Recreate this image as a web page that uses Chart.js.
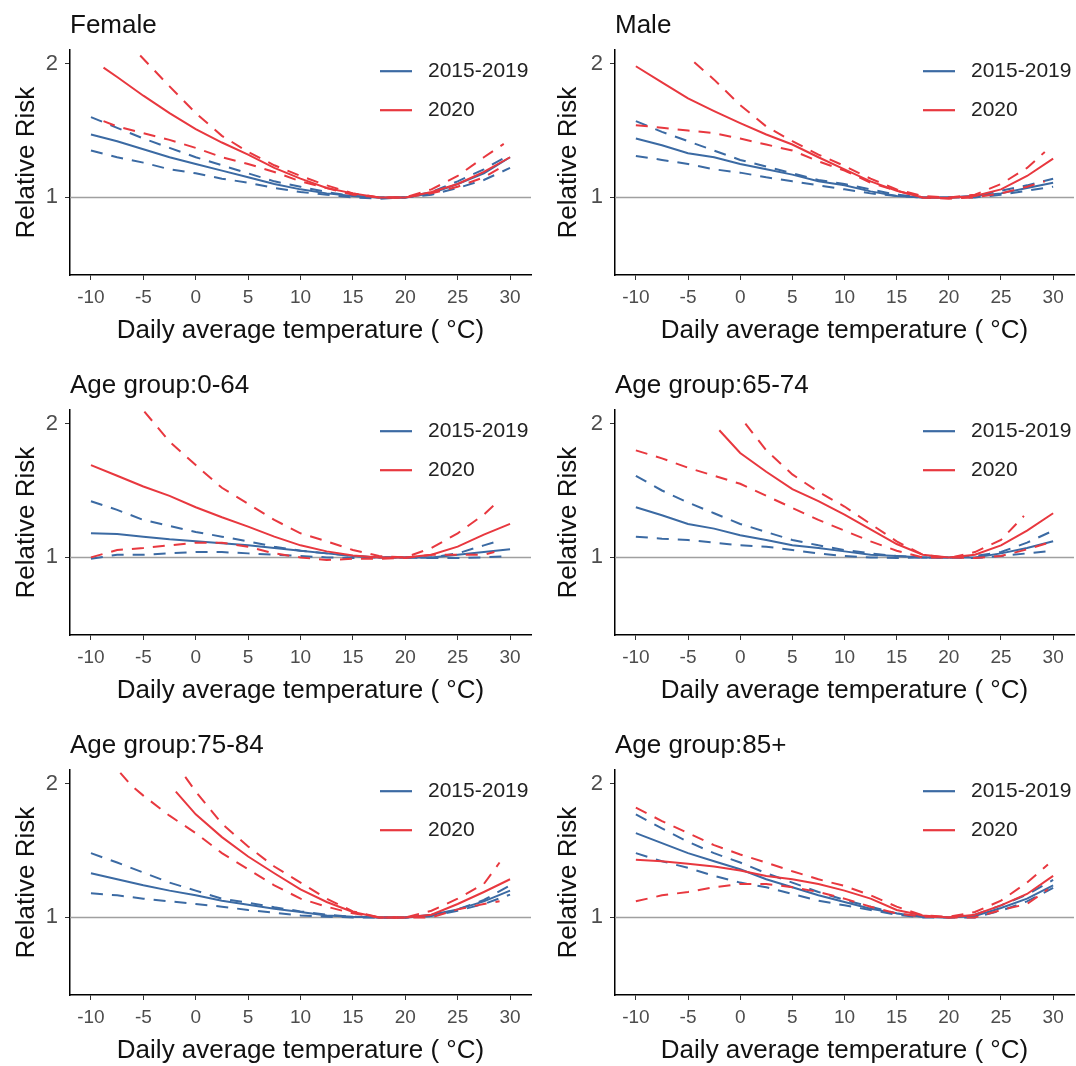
<!DOCTYPE html>
<html>
<head>
<meta charset="utf-8">
<script src="https://cdn.jsdelivr.net/npm/chart.js@4.4.0/dist/chart.umd.min.js"></script>
<style>
  body { margin: 0; background: #fff; width: 1076px; height: 1066px; overflow: hidden; position: relative; }
  canvas { position: absolute; }
</style>
</head>
<body>
<canvas id="p0" width="536" height="360" style="left:0;top:0"></canvas>
<canvas id="p1" width="540" height="360" style="left:536px;top:0"></canvas>
<canvas id="p2" width="536" height="360" style="left:0;top:360px"></canvas>
<canvas id="p3" width="540" height="360" style="left:536px;top:360px"></canvas>
<canvas id="p4" width="536" height="360" style="left:0;top:720px"></canvas>
<canvas id="p5" width="540" height="360" style="left:536px;top:720px"></canvas>
<script>
// tick labels and legend
var xTicks = [-10, -5, 0, 5, 10, 15, 20, 25, 30];
var yTicks = [1, 2];
var periods = ['2015-2019', '2020'];
var titles = ['Female', 'Male', 'Age group:0-64', 'Age group:65-74', 'Age group:75-84', 'Age group:85+'];

// [temperature, relative risk]
var female2015Fit = [[-10,1.47],[-7.5,1.42],[-5,1.36],[-2.5,1.30],[0,1.25],[2.5,1.20],[5,1.15],[7.5,1.10],[10,1.06],[12.5,1.03],[15,1.01],[17.5,1.0],[20,1.0],[22.5,1.03],[25,1.10],[27.5,1.18],[30,1.30]];
var female2015Lo = [[-10,1.35],[-7.5,1.30],[-5,1.26],[-2.5,1.21],[0,1.18],[2.5,1.14],[5,1.11],[7.5,1.07],[10,1.04],[12.5,1.02],[15,1.0],[17.5,0.99],[20,1.0],[22.5,1.02],[25,1.07],[27.5,1.13],[30,1.22]];
var female2015Hi = [[-10,1.60],[-7.5,1.52],[-5,1.44],[-2.5,1.37],[0,1.30],[2.5,1.24],[5,1.18],[7.5,1.12],[10,1.08],[12.5,1.04],[15,1.01],[17.5,1.0],[20,1.0],[22.5,1.04],[25,1.12],[27.5,1.21],[30,1.32]];
var female2020Fit = [[-8.8,1.97],[-7.5,1.90],[-5,1.76],[-2.5,1.63],[0,1.51],[2.5,1.41],[5,1.32],[7.5,1.22],[10,1.14],[12.5,1.07],[15,1.03],[17.5,1.0],[20,1.0],[22.5,1.04],[25,1.10],[27.5,1.19],[30,1.30]];
var female2020Lo = [[-8.8,1.57],[-7.5,1.53],[-5,1.48],[-2.5,1.43],[0,1.37],[2.5,1.30],[5,1.25],[7.5,1.19],[10,1.12],[12.5,1.07],[15,1.02],[17.5,1.0],[20,1.0],[22.5,1.03],[25,1.08],[27.5,1.15],[29.5,1.24]];
var female2020Hi = [[-5.3,2.06],[-2.5,1.83],[0,1.63],[2.5,1.46],[5,1.34],[7.5,1.24],[10,1.16],[12.5,1.09],[15,1.03],[17.5,1.0],[20,1.0],[22.5,1.06],[25,1.16],[27.5,1.30],[29.4,1.40]];

var male2015Fit = [[-10,1.44],[-7.5,1.39],[-5,1.33],[-2.5,1.30],[0,1.25],[2.5,1.21],[5,1.17],[7.5,1.12],[10,1.09],[12.5,1.045],[15,1.01],[17.5,1.0],[20,1.0],[22.5,1.01],[25,1.03],[27.5,1.07],[30,1.11]];
var male2015Lo = [[-10,1.31],[-7.5,1.28],[-5,1.25],[-2.5,1.21],[0,1.185],[2.5,1.15],[5,1.12],[7.5,1.09],[10,1.06],[12.5,1.03],[15,1.01],[17.5,1.0],[20,1.0],[22.5,1.0],[25,1.02],[27.5,1.05],[30,1.08]];
var male2015Hi = [[-10,1.57],[-7.5,1.49],[-5,1.42],[-2.5,1.35],[0,1.28],[2.5,1.23],[5,1.18],[7.5,1.13],[10,1.10],[12.5,1.06],[15,1.02],[17.5,1.0],[20,1.0],[22.5,1.01],[25,1.05],[27.5,1.09],[30,1.14]];
var male2020Fit = [[-10,1.98],[-7.5,1.86],[-5,1.74],[-2.5,1.645],[0,1.555],[2.5,1.47],[5,1.395],[7.5,1.30],[10,1.21],[12.5,1.12],[15,1.05],[17.5,1.0],[20,0.995],[22.5,1.01],[25,1.06],[27.5,1.16],[30,1.29]];
var male2020Lo = [[-10,1.54],[-7.5,1.52],[-5,1.50],[-2.5,1.48],[0,1.44],[2.5,1.395],[5,1.35],[7.5,1.27],[10,1.20],[12.5,1.11],[15,1.05],[17.5,1.0],[20,0.99],[22.5,1.0],[25,1.03],[27.5,1.08],[29.2,1.12]];
var male2020Hi = [[-4.4,2.01],[-2.5,1.88],[0,1.69],[2.5,1.53],[5,1.42],[7.5,1.32],[10,1.235],[12.5,1.14],[15,1.06],[17.5,1.01],[20,1.0],[22.5,1.02],[25,1.10],[27.5,1.22],[29.2,1.34]];

var young2015Fit = [[-10,1.18],[-7.5,1.175],[-5,1.155],[-2.5,1.135],[0,1.12],[2.5,1.105],[5,1.09],[7.5,1.07],[10,1.05],[12.5,1.03],[15,1.01],[17.5,1.0],[20,1.0],[22.5,1.0],[25,1.02],[27.5,1.04],[30,1.06]];
var young2015Lo = [[-10,0.99],[-7.5,1.02],[-5,1.02],[-2.5,1.03],[0,1.04],[2.5,1.04],[5,1.03],[7.5,1.02],[10,1.01],[12.5,1.0],[15,0.995],[17.5,1.0],[20,1.0],[22.5,0.995],[25,0.995],[27.5,1.0],[30,1.01]];
var young2015Hi = [[-10,1.42],[-7.5,1.355],[-5,1.28],[-2.5,1.235],[0,1.19],[2.5,1.155],[5,1.12],[7.5,1.08],[10,1.05],[12.5,1.03],[15,1.01],[17.5,1.0],[20,1.0],[22.5,1.0],[25,1.03],[27.5,1.09],[28.8,1.12]];
var young2020Fit = [[-10,1.69],[-7.5,1.61],[-5,1.53],[-2.5,1.46],[0,1.375],[2.5,1.30],[5,1.23],[7.5,1.155],[10,1.09],[12.5,1.045],[15,1.015],[17.5,1.0],[20,1.0],[22.5,1.02],[25,1.08],[27.5,1.17],[30,1.25]];
var young2020Lo = [[-10,1.0],[-7.5,1.055],[-5,1.07],[-2.5,1.09],[0,1.11],[2.5,1.11],[5,1.08],[7.5,1.03],[10,1.0],[12.5,0.98],[15,0.99],[17.5,0.99],[20,0.995],[22.5,1.02],[25,1.02],[27.5,1.02],[28.5,1.04]];
var young2020Hi = [[-4.9,2.09],[-2.5,1.865],[0,1.69],[2.5,1.52],[5,1.40],[7.5,1.28],[10,1.18],[12.5,1.12],[15,1.055],[17.5,1.01],[20,1.0],[22.5,1.07],[25,1.18],[27.5,1.32],[28.6,1.40]];

var mid2015Fit = [[-10,1.375],[-7.5,1.315],[-5,1.25],[-2.5,1.215],[0,1.165],[2.5,1.13],[5,1.09],[7.5,1.07],[10,1.045],[12.5,1.02],[15,1.01],[17.5,1.0],[20,1.0],[22.5,1.0],[25,1.03],[27.5,1.07],[30,1.12]];
var mid2015Lo = [[-10,1.155],[-7.5,1.14],[-5,1.13],[-2.5,1.11],[0,1.09],[2.5,1.08],[5,1.055],[7.5,1.03],[10,1.01],[12.5,1.0],[15,0.995],[17.5,1.0],[20,1.0],[22.5,0.995],[25,1.01],[27.5,1.03],[30,1.05]];
var mid2015Hi = [[-10,1.61],[-7.5,1.50],[-5,1.41],[-2.5,1.33],[0,1.25],[2.5,1.19],[5,1.13],[7.5,1.09],[10,1.055],[12.5,1.03],[15,1.01],[17.5,1.0],[20,1.0],[22.5,1.01],[25,1.04],[27.5,1.11],[30,1.20]];
var mid2020Fit = [[-2,1.95],[0,1.78],[2.5,1.64],[5,1.51],[7.5,1.42],[10,1.32],[12.5,1.21],[15,1.10],[17.5,1.02],[20,1.0],[22.5,1.02],[25,1.09],[27.5,1.20],[30,1.33]];
var mid2020Lo = [[-10,1.80],[-7.5,1.74],[-5,1.67],[-2.5,1.61],[0,1.55],[2.5,1.46],[5,1.37],[7.5,1.28],[10,1.20],[12.5,1.12],[15,1.05],[17.5,1.0],[20,1.0],[22.5,0.995],[25,1.01],[27.5,1.06],[30,1.12]];
var mid2020Hi = [[0.5,2.0],[2.5,1.80],[5,1.62],[7.5,1.49],[10,1.38],[12.5,1.25],[15,1.12],[17.5,1.02],[20,0.995],[22.5,1.04],[25,1.13],[27.2,1.31]];

var old2015Fit = [[-10,1.33],[-7.5,1.285],[-5,1.24],[-2.5,1.20],[0,1.165],[2.5,1.125],[5,1.095],[7.5,1.065],[10,1.04],[12.5,1.015],[15,1.005],[17.5,1.0],[20,1.0],[22.5,1.02],[25,1.06],[27.5,1.12],[30,1.20]];
var old2015Lo = [[-10,1.18],[-7.5,1.165],[-5,1.14],[-2.5,1.12],[0,1.10],[2.5,1.08],[5,1.055],[7.5,1.035],[10,1.015],[12.5,1.005],[15,1.0],[17.5,1.0],[20,1.0],[22.5,1.01],[25,1.05],[27.5,1.10],[30,1.17]];
var old2015Hi = [[-10,1.48],[-7.5,1.41],[-5,1.335],[-2.5,1.26],[0,1.20],[2.5,1.14],[5,1.11],[7.5,1.075],[10,1.045],[12.5,1.02],[15,1.005],[17.5,1.0],[20,1.0],[22.5,1.01],[25,1.06],[27.5,1.13],[30,1.24]];
var old2020Fit = [[-1.9,1.94],[0,1.77],[2.5,1.60],[5,1.455],[7.5,1.33],[10,1.21],[12.5,1.115],[15,1.04],[17.5,1.0],[20,1.0],[22.5,1.02],[25,1.10],[27.5,1.19],[30,1.285]];
var old2020Lo = [[-7.2,2.08],[-6.2,1.99],[-5,1.91],[-2.5,1.76],[0,1.63],[2.5,1.48],[5,1.36],[7.5,1.24],[10,1.14],[12.5,1.08],[15,1.03],[17.5,1.0],[20,1.0],[22.5,1.0],[25,1.06],[27.5,1.10],[29,1.12]];
var old2020Hi = [[-1,2.05],[0,1.94],[2.5,1.70],[5,1.53],[7.5,1.38],[10,1.26],[12.5,1.14],[15,1.045],[17.5,1.0],[20,1.0],[22.5,1.05],[25,1.14],[27.5,1.25],[29,1.41]];

var oldest2015Fit = [[-10,1.63],[-7.5,1.555],[-5,1.48],[-2.5,1.42],[0,1.36],[2.5,1.285],[5,1.225],[7.5,1.165],[10,1.115],[12.5,1.065],[15,1.03],[17.5,1.005],[20,1.0],[22.5,1.01],[25,1.07],[27.5,1.14],[30,1.24]];
var oldest2015Lo = [[-10,1.48],[-7.5,1.42],[-5,1.37],[-2.5,1.31],[0,1.26],[2.5,1.225],[5,1.175],[7.5,1.125],[10,1.09],[12.5,1.055],[15,1.02],[17.5,1.0],[20,1.0],[22.5,1.0],[25,1.05],[27.5,1.12],[30,1.22]];
var oldest2015Hi = [[-10,1.77],[-7.5,1.665],[-5,1.565],[-2.5,1.48],[0,1.41],[2.5,1.33],[5,1.26],[7.5,1.19],[10,1.13],[12.5,1.08],[15,1.03],[17.5,1.005],[20,1.0],[22.5,1.02],[25,1.09],[27.5,1.17],[30,1.28]];
var oldest2020Fit = [[-10,1.43],[-7.5,1.42],[-5,1.40],[-2.5,1.38],[0,1.35],[2.5,1.31],[5,1.285],[7.5,1.25],[10,1.20],[12.5,1.14],[15,1.055],[17.5,1.015],[20,1.0],[22.5,1.02],[25,1.09],[27.5,1.175],[30,1.31]];
var oldest2020Lo = [[-10,1.12],[-7.5,1.165],[-5,1.19],[-2.5,1.225],[0,1.25],[2.5,1.25],[5,1.225],[7.5,1.19],[10,1.14],[12.5,1.08],[15,1.03],[17.5,1.005],[20,1.0],[22.5,1.0],[25,1.055],[27.5,1.10],[29.5,1.21]];
var oldest2020Hi = [[-10,1.82],[-7.5,1.72],[-5,1.63],[-2.5,1.54],[0,1.47],[2.5,1.41],[5,1.345],[7.5,1.285],[10,1.235],[12.5,1.165],[15,1.08],[17.5,1.015],[20,1.005],[22.5,1.04],[25,1.125],[27.5,1.26],[29.5,1.395]];

var panelSeries = [
    [female2015Fit, female2015Lo, female2015Hi, female2020Fit, female2020Lo, female2020Hi],
    [male2015Fit, male2015Lo, male2015Hi, male2020Fit, male2020Lo, male2020Hi],
    [young2015Fit, young2015Lo, young2015Hi, young2020Fit, young2020Lo, young2020Hi],
    [mid2015Fit, mid2015Lo, mid2015Hi, mid2020Fit, mid2020Lo, mid2020Hi],
    [old2015Fit, old2015Lo, old2015Hi, old2020Fit, old2020Lo, old2020Hi],
    [oldest2015Fit, oldest2015Lo, oldest2015Hi, oldest2020Fit, oldest2020Lo, oldest2020Hi]
];

var BLUE = '#3b6aa3';
var RED = '#e8383f';
var FONT = '"Liberation Sans", Arial, sans-serif';
Chart.defaults.font.family = FONT;

// legend drawn inside the plot, top right like ggplot
var insideLegend = {
    id: 'insideLegend',
    afterDatasetsDraw: function(chart) {
        var ctx = chart.ctx, area = chart.chartArea;
        var cols = [BLUE, RED];
        ctx.save();
        periods.forEach(function(p, i) {
            var y = area.top + 21 + i * 39;
            var x0 = area.right - 151;
            ctx.strokeStyle = cols[i];
            ctx.lineWidth = 2.2;
            ctx.beginPath();
            ctx.moveTo(x0, y);
            ctx.lineTo(x0 + 32, y);
            ctx.stroke();
            ctx.fillStyle = '#222';
            ctx.font = '21px ' + FONT;
            ctx.textBaseline = 'middle';
            ctx.fillText(p, x0 + 48, y);
        });
        ctx.restore();
    }
};

function toXY(arr) {
    return arr.map(function(d) { return {x: d[0], y: d[1]}; });
}

function line(arr, color, dashed) {
    return {
        data: toXY(arr),
        borderColor: color,
        borderWidth: 2,
        borderDash: dashed ? [12, 9] : [],
        pointRadius: 0,
        fill: false,
        tension: 0
    };
}

function makePanel(i) {
    var s = panelSeries[i];
    var rightCol = i % 2 == 1;
    var ctx = document.getElementById('p' + i).getContext('2d');
    new Chart(ctx, {
        type: 'line',
        data: {
            datasets: [
                line(s[3], RED, false),
                line(s[4], RED, true),
                line(s[5], RED, true),
                line(s[0], BLUE, false),
                line(s[1], BLUE, true),
                line(s[2], BLUE, true),
                {
                    data: [{x: -12, y: 1}, {x: 32, y: 1}],
                    borderColor: '#a0a0a0',
                    borderWidth: 1.5,
                    pointRadius: 0
                }
            ]
        },
        options: {
            responsive: false,
            animation: false,
            layout: {
                padding: {left: 0, right: rightCol ? 2 : 5, top: 1, bottom: 0}
            },
            plugins: {
                legend: {display: false},
                tooltip: {enabled: false},
                title: {
                    display: true,
                    text: titles[i],
                    align: 'start',
                    fullSize: false,
                    color: '#111',
                    font: {size: 26, weight: 'normal'},
                    padding: {top: 9, bottom: 9}
                }
            },
            scales: {
                x: {
                    type: 'linear',
                    min: -12,
                    max: 32,
                    afterBuildTicks: function(sc) { sc.ticks = xTicks.map(function(v) { return {value: v}; }); },
                    afterFit: function(sc) { sc.height = 85; },
                    grid: {drawOnChartArea: false, drawTicks: true, tickLength: 5, color: '#333'},
                    border: {display: true, color: '#000', width: 1.5},
                    ticks: {color: '#4d4d4d', font: {size: 19}, padding: 6, maxRotation: 0},
                    title: {
                        display: true,
                        text: 'Daily average temperature ( °C)',
                        color: '#111',
                        font: {size: 26},
                        padding: {top: 0, bottom: 14}
                    }
                },
                y: {
                    type: 'linear',
                    min: 0.42,
                    max: 2.1,
                    afterBuildTicks: function(sc) { sc.ticks = yTicks.map(function(v) { return {value: v}; }); },
                    afterFit: function(sc) { sc.width = rightCol ? 79 : 70; },
                    grid: {drawOnChartArea: false, drawTicks: true, tickLength: 5, color: '#333'},
                    border: {display: true, color: '#000', width: 1.5},
                    ticks: {color: '#4d4d4d', font: {size: 22}, padding: 7},
                    title: {
                        display: true,
                        text: 'Relative Risk',
                        color: '#111',
                        font: {size: 26},
                        padding: {top: rightCol ? 17 : 11, bottom: 0}
                    }
                }
            }
        },
        plugins: [insideLegend]
    });
}

for (var i = 0; i < 6; i++) makePanel(i);
</script>
</body>
</html>
